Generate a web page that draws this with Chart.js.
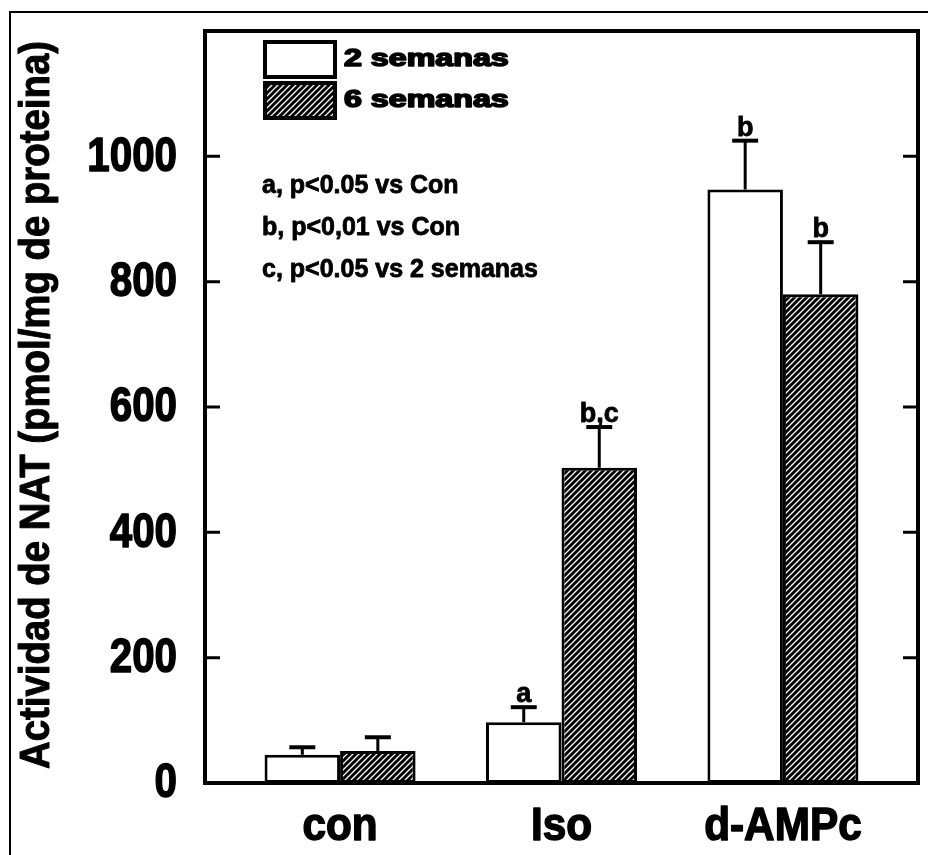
<!DOCTYPE html>
<html lang="es">
<head>
<meta charset="utf-8">
<title>Actividad de NAT</title>
<script src="https://cdn.jsdelivr.net/npm/chart.js@4.4.1/dist/chart.umd.min.js"></script>
<style>
  html, body { margin: 0; padding: 0; background: #fff; }
  #natChart { display: block; }
</style>
</head>
<body>
<canvas id="natChart" width="928" height="855"></canvas>
<script>
// ─── Data ─────────────────────────────────────────────────────────────
const categories = ['con', 'Iso', 'd-AMPc'];
const semanas2 = [45, 97, 947];
const semanas2Err = [12, 24, 78];
const semanas6 = [51, 503, 780];
const semanas6Err = [22, 65, 83];
const sig2 = ['', 'a', 'b'];
const sig6 = ['', 'b,c', 'b'];
const yTicks = [0, 200, 400, 600, 800, 1000];
const seriesLabels = ['2 semanas', '6 semanas'];
const notes = ['a, p<0.05 vs Con', 'b, p<0,01 vs Con', 'c, p<0.05 vs 2 semanas'];
const yTitle = 'Actividad de NAT (pmol/mg de proteina)';

const FONT = "'Liberation Sans', Arial, sans-serif";

// ─── Hatch pattern for the 6-week bars ───────────────────────────────
function makeHatch() {
    const tile = document.createElement('canvas');
    tile.width = 6;
    tile.height = 6;
    const t = tile.getContext('2d');
    t.fillStyle = '#fff';
    t.fillRect(0, 0, 6, 6);
    t.strokeStyle = '#000';
    t.lineWidth = 3;
    t.beginPath();
    t.moveTo(-1, 7); t.lineTo(7, -1);
    t.moveTo(-4, 4); t.lineTo(4, -4);
    t.moveTo(2, 10); t.lineTo(10, 2);
    t.stroke();
    return t.createPattern(tile, 'repeat');
}
const hatch = makeHatch();

// x positions of the groups on a linear axis (1, 2, 3)
const xPos = categories.map((c, i) => i + 1);
const toPoints = vals => vals.map((v, i) => ({ x: xPos[i], y: v }));

// squeezed / stretched text helper (the scan uses a heavy condensed face)
function drawText(ctx, str, x, y, size, sx, align, baseline, rot, heavy) {
    ctx.save();
    ctx.translate(x, y);
    if (rot) ctx.rotate(rot);
    ctx.scale(sx, 1);
    ctx.font = `bold ${size}px ${FONT}`;
    ctx.textAlign = align;
    ctx.textBaseline = baseline;
    ctx.fillStyle = '#000';
    ctx.fillText(str, 0, 0);
    if (heavy) {
        ctx.strokeStyle = '#000';
        ctx.lineWidth = heavy;
        ctx.lineJoin = 'round';
        ctx.strokeText(str, 0, 0);
    }
    ctx.restore();
}

// ─── Frame, ticks, labels, error bars, letters, legend, notes ────────
const decorPlugin = {
    id: 'decor',
    afterDatasetsDraw(chart) {
        const ctx = chart.ctx;
        const ys = chart.scales.y;
        const errs = [semanas2Err, semanas6Err];
        const sigs = [sig2, sig6];

        ctx.save();
        ctx.strokeStyle = '#000';
        chart.data.datasets.forEach((ds, di) => {
            const meta = chart.getDatasetMeta(di);
            meta.data.forEach((bar, j) => {
                const v = ds.data[j].y;
                const top = ys.getPixelForValue(v);
                const errY = ys.getPixelForValue(v + errs[di][j]);
                ctx.lineWidth = 3;
                ctx.beginPath();
                ctx.moveTo(bar.x, top);
                ctx.lineTo(bar.x, errY);
                ctx.stroke();
                ctx.lineWidth = 4;
                ctx.beginPath();
                ctx.moveTo(bar.x - 13, errY);
                ctx.lineTo(bar.x + 13, errY);
                ctx.stroke();
                if (sigs[di][j]) {
                    drawText(ctx, sigs[di][j], bar.x, errY - 5, 27, 1, 'center', 'alphabetic', 0, 0.8);
                }
            });
        });
        ctx.restore();
    },
    afterDraw(chart) {
        const ctx = chart.ctx;
        const { left, right, top, bottom } = chart.chartArea;
        const xs = chart.scales.x;
        const ys = chart.scales.y;

        ctx.save();
        // outer frame of the figure
        ctx.strokeStyle = '#000';
        ctx.lineWidth = 2;
        ctx.beginPath();
        ctx.moveTo(10, chart.height);
        ctx.lineTo(10, 12);
        ctx.lineTo(chart.width, 12);
        ctx.stroke();

        // plot frame
        ctx.lineWidth = 4;
        ctx.strokeRect(left, top, right - left, bottom - top);

        // inward ticks on both sides + y tick labels
        ctx.lineWidth = 3;
        ys.ticks.forEach(t => {
            const y = ys.getPixelForValue(t.value);
            if (t.value > 0) {
                ctx.beginPath();
                ctx.moveTo(left, y); ctx.lineTo(left + 15, y);
                ctx.moveTo(right, y); ctx.lineTo(right - 15, y);
                ctx.stroke();
            }
            drawText(ctx, String(t.value), left - 28, y + 1, 48, 0.84, 'right', 'middle', 0, 1.5);
        });

        // category labels under the groups
        xs.ticks.forEach(t => {
            const x = xs.getPixelForValue(t.value);
            drawText(ctx, categories[t.value - 1], x, 840, 46, 0.92, 'center', 'alphabetic', 0, 1.5);
        });

        // y axis title, squeezed to the axis height
        ctx.font = `bold 42px ${FONT}`;
        const tw = ctx.measureText(yTitle).width;
        drawText(ctx, yTitle, 37, (top + bottom) / 2 - 2, 42, 728 / tw, 'center', 'middle', -Math.PI / 2, 1);

        // legend boxes
        const boxes = [
            { y: 42, fill: '#fff' },
            { y: 83, fill: hatch }
        ];
        boxes.forEach((b, i) => {
            ctx.fillStyle = b.fill;
            ctx.fillRect(265, b.y, 70, 35);
            ctx.lineWidth = 4;
            ctx.strokeStyle = '#000';
            ctx.strokeRect(265, b.y, 70, 35);
            // legend text is wide and squat in the original
            drawText(ctx, seriesLabels[i], 344, b.y + 18, 23, 1.4, 'left', 'middle', 0, 1.6);
        });

        // significance notes
        notes.forEach((n, i) => drawText(ctx, n, 262, 186 + i * 42, 25, 1, 'left', 'middle', 0, 0.8));
        ctx.restore();
    }
};

// ─── Chart ────────────────────────────────────────────────────────────
const ctx = document.getElementById('natChart').getContext('2d');
new Chart(ctx, {
    type: 'bar',
    data: {
        datasets: [
            {
                label: seriesLabels[0],
                data: toPoints(semanas2),
                backgroundColor: '#fff',
                borderColor: '#000',
                borderWidth: 3,
                borderSkipped: false
            },
            {
                label: seriesLabels[1],
                data: toPoints(semanas6),
                backgroundColor: hatch,
                borderColor: '#000',
                borderWidth: 3,
                borderSkipped: false
            }
        ]
    },
    options: {
        responsive: false,
        animation: false,
        devicePixelRatio: 1,
        layout: { padding: { top: 31, right: 10, left: 0, bottom: 0 } },
        datasets: { bar: { categoryPercentage: 0.682, barPercentage: 1.0 } },
        scales: {
            x: {
                type: 'linear',
                min: 0.39,
                max: 3.61,
                offset: false,
                afterBuildTicks: s => { s.ticks = xPos.map(v => ({ value: v })); },
                afterFit: s => { s.height = 72; },
                grid: { display: false },
                border: { display: false },
                ticks: { display: false }
            },
            y: {
                min: 0,
                max: 1200,
                afterBuildTicks: s => { s.ticks = yTicks.map(v => ({ value: v })); },
                afterFit: s => { s.width = 205; },
                grid: { display: false },
                border: { display: false },
                ticks: { display: false }
            }
        },
        plugins: {
            legend: { display: false },
            tooltip: { enabled: false }
        }
    },
    plugins: [decorPlugin]
});
</script>
</body>
</html>
